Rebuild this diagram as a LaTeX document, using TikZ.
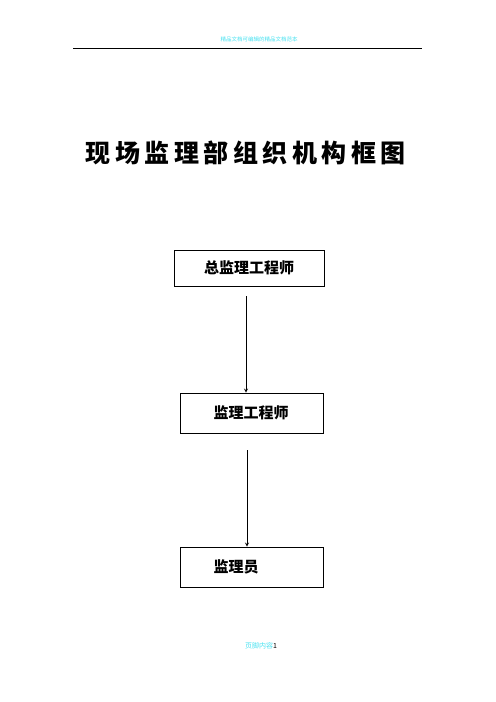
\documentclass[tikz,border=0pt]{standalone}
\usepackage{fontspec}
\newfontfamily\cjk{Noto Sans CJK SC}
\newfontfamily\cjkheavy{Noto Sans CJK SC Black}
\usetikzlibrary{calc}
\definecolor{hdrcyan}{RGB}{70,225,240}

\begin{document}
\begin{tikzpicture}[x=1bp,y=-1bp,>=stealth,
    box/.style={rectangle,draw,line width=0.8bp,font=\cjk\bfseries\fontsize{15bp}{18bp}\selectfont},
    link/.style={->,line width=0.8bp}]
       \useasboundingbox (0,0) rectangle (496,702);
       % header and footer
       \draw[line width=0.8bp] (73,48) -- (422,48);
       \node (header) at (259,39) [text=hdrcyan,font=\cjk\fontsize{5.5bp}{6bp}\selectfont]
             {精品文档可编辑的精品文档范本};
       \node (footer) at (261,646) [font=\cjk\fontsize{7bp}{8bp}\selectfont]
             {\textcolor{hdrcyan}{页脚内容}1};
       % title
       \node (title) at (246,153) [font=\cjkheavy\fontsize{25bp}{30bp}\addfontfeature{LetterSpace=18}\selectfont]
             {现场监理部组织机构框图};
       % boxes
       \node (chief) at (249,268) [box,minimum width=150bp,minimum height=36bp]{总监理工程师};
       \node (engineer) at (251.5,413) [box,minimum width=143bp,minimum height=40bp,
                                        text width=76bp,inner xsep=33.5bp,align=left]{监理工程师};
       \node (staff) at (251.5,567) [box,minimum width=143bp,minimum height=40bp,
                                     text width=76bp,inner xsep=33.5bp,align=left]{监理员};
       % arrows
       \coordinate (from1) at (246,296);
       \coordinate (from2) at (247,450);
       \draw [link] (from1) -- (from1 |- engineer.north);
       \draw [link] (from2) -- (from2 |- staff.north);
\end{tikzpicture}
\end{document}
